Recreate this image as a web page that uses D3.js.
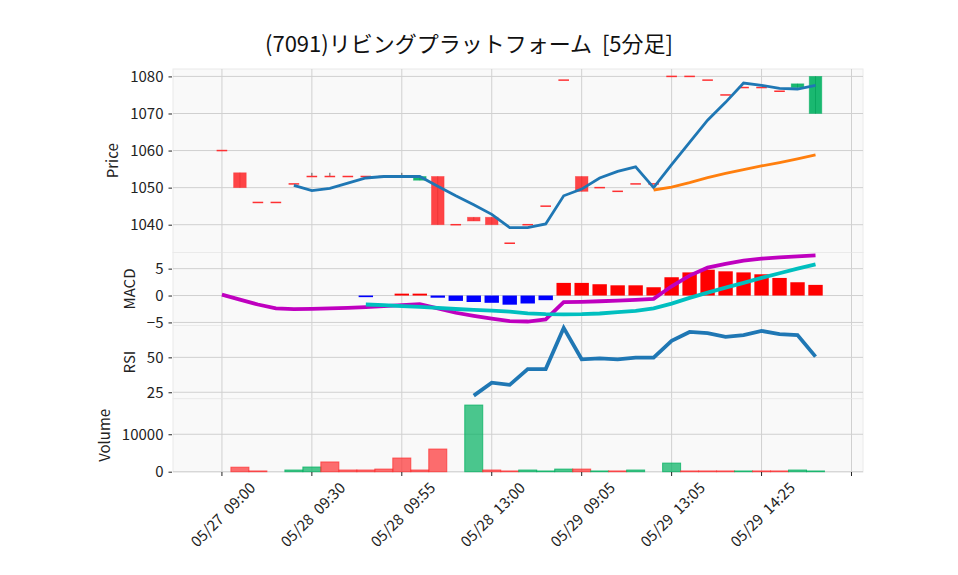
<!DOCTYPE html>
<html><head><meta charset="utf-8">
<script src="https://cdn.jsdelivr.net/npm/d3@7"></script>
<style>
html,body{margin:0;padding:0;background:#fff;}
svg text{font-family:"Noto Sans CJK JP","Noto Sans",sans-serif;}
</style></head>
<body><svg id="c" width="958" height="575"></svg>
<script>
// ---------------- data ----------------
const titleText = "(7091)リビングプラットフォーム  [5分足]";
const tickIdx = [0, 5, 10, 15, 20, 25, 30, 35];
const tickLabels = ["05/27  09:00", "05/28  09:30", "05/28  09:55", "05/28  13:00", "05/29  09:05", "05/29  13:05", "05/29  14:25", ""];
const opens  = [1060,1054,1046,1046,1051,1053,1053,1053,1053,1053,1053,1052,1053,1040,1042,1042,1035,1040,1045,1079,1053,1050,1049,1051,1051,1080,1080,1079,1075,1077,1077,1076,1077,1070];
const closes = [1060,1050,1046,1046,1051,1053,1053,1053,1053,1053,1053,1053,1040,1040,1041,1040,1035,1040,1045,1079,1049,1050,1049,1051,1051,1080,1080,1079,1075,1077,1077,1076,1078,1080];
const highs  = [1060,1054,1046,1046,1051,1054,1054,1053,1053,1053,1054,1053,1053,1040,1042,1042,1035,1040,1045,1079,1053,1050,1049,1051,1051,1080,1080,1079,1075,1077,1077,1076,1078,1080];
const lows   = [1060,1050,1046,1046,1051,1053,1053,1053,1053,1053,1053,1052,1040,1040,1041,1040,1035,1040,1045,1079,1049,1050,1049,1051,1051,1080,1080,1079,1075,1077,1077,1076,1077,1070];
const ma5  = [null,null,null,null,1050.6,1049.2,1049.8,1051.2,1052.6,1053,1053,1053,1050.4,1047.8,1045.4,1042.8,1039.2,1039.2,1040.2,1047.8,1049.6,1052.6,1054.4,1055.6,1050,1056.2,1062.2,1068.2,1073,1078.2,1077.6,1076.8,1076.6,1077.6];
const ma25 = [null,null,null,null,null,null,null,null,null,null,null,null,null,null,null,null,null,null,null,null,null,null,null,null,1049.36,1050.16,1051.36,1052.68,1053.84,1054.88,1055.84,1056.76,1057.76,1058.84];
const macd = [0.17,-0.75,-1.67,-2.4,-2.54,-2.47,-2.4,-2.3,-2.17,-1.98,-1.8,-1.6,-2.4,-3.2,-3.77,-4.27,-4.77,-4.83,-4.45,-1.24,-1.18,-1.06,-0.93,-0.8,-0.62,1.72,3.7,5.18,5.9,6.48,6.85,7.1,7.28,7.47];
const signal = [null,null,null,null,null,null,null,null,-1.67,-1.8,-1.95,-2.1,-2.3,-2.5,-2.65,-2.8,-3.0,-3.3,-3.46,-3.5,-3.46,-3.34,-3.1,-2.85,-2.4,-1.5,-0.44,0.55,1.48,2.35,3.27,4.14,5.0,5.8];
const hist = [null,null,null,null,null,null,null,null,-0.3,0,0.35,0.35,-0.4,-1.0,-1.2,-1.35,-1.7,-1.48,-0.86,2.35,2.35,2.1,1.9,1.9,1.54,3.4,4.3,4.8,4.5,4.3,3.95,3.27,2.47,1.98];
const rsi = [null,null,null,null,null,null,null,null,null,null,null,null,null,null,22.6,31.9,30.3,41.6,41.6,71.1,48.6,49.3,48.6,49.8,49.8,61.8,68.2,67.3,64.7,65.9,68.9,66.6,65.9,50.5];
const volume = [0,1200,200,0,450,1250,2600,450,450,700,3650,450,6050,0,17800,450,200,450,200,700,700,200,200,450,0,2300,200,200,200,200,200,200,450,200];
const priceTicks = [1040,1050,1060,1070,1080];
const macdTicks = [-5,0,5];
const rsiTicks = [25,50];
const volTicks = [0,10000];

// ---------------- layout ----------------
const svg = d3.select("#c");
const L = 173, R = 863;
const FS = 15;
const panels = {
  price: {top: 69, bottom: 252.5, domain: [1032.5, 1082], ticks: priceTicks, label: "Price"},
  macd:  {top: 252.5, bottom: 325.5, domain: [-5.57, 8.0], ticks: macdTicks, label: "MACD"},
  rsi:   {top: 325.5, bottom: 398.7, domain: [20.4, 72.8], ticks: rsiTicks, label: "RSI"},
  vol:   {top: 398.7, bottom: 472, domain: [-80, 19500], ticks: volTicks, label: "Volume"}
};
const idx = d3.range(closes.length);
const x = d3.scaleLinear().domain([-2.72, 35.64]).range([L, R]);
const step = x(1) - x(0);
const UP = "#00b060", DOWN = "#fe3032";
const fmt = d => (d < 0 ? "\u2212" + Math.abs(d) : String(d));

Object.values(panels).forEach(p => {
  p.y = d3.scaleLinear().domain(p.domain).range([p.bottom, p.top]);
  svg.append("rect").attr("x", L).attr("y", p.top).attr("width", R - L).attr("height", p.bottom - p.top)
    .attr("fill", "#f9f9f9").attr("stroke", "#eaeaea").attr("stroke-width", 1);
  const g = svg.append("g");
  g.selectAll("line.vg").data(tickIdx).join("line")
    .attr("x1", d => x(d)).attr("x2", d => x(d)).attr("y1", p.top).attr("y2", p.bottom)
    .attr("stroke", "#d0d0d0").attr("stroke-width", 1);
  g.selectAll("line.hg").data(p.ticks).join("line")
    .attr("x1", L).attr("x2", R).attr("y1", d => p.y(d)).attr("y2", d => p.y(d))
    .attr("stroke", "#d0d0d0").attr("stroke-width", 1);
  const ax = svg.append("g").attr("transform", `translate(${L - 1},0)`)
    .call(d3.axisLeft(p.y).tickValues(p.ticks).tickFormat(fmt).tickSize(3.5).tickPadding(5));
  ax.select(".domain").remove();
  ax.selectAll("line").attr("stroke", "#222");
  ax.selectAll("text").attr("font-size", FS).attr("fill", "#222")
    .style("font-family", '"Noto Sans CJK JP","Noto Sans",sans-serif');
  const bb = ax.node().getBBox();
  const lx = L - 1 + bb.x - 12;
  svg.append("text").text(p.label)
    .attr("transform", `translate(${lx},${(p.top + p.bottom) / 2}) rotate(-90)`)
    .attr("text-anchor", "middle").attr("font-size", FS).attr("fill", "#222");
});

// ---------------- price panel ----------------
const P = panels.price;
const cw = step * 0.7;
const pg = svg.append("g");
pg.selectAll("line.wick").data(idx).join("line")
  .attr("x1", i => x(i)).attr("x2", i => x(i))
  .attr("y1", i => P.y(highs[i])).attr("y2", i => P.y(lows[i]))
  .attr("stroke", "#606060").attr("stroke-width", 1);
pg.selectAll("rect.body").data(idx.filter(i => opens[i] !== closes[i])).join("rect")
  .attr("x", i => x(i) - cw / 2).attr("width", cw)
  .attr("y", i => P.y(Math.max(opens[i], closes[i])))
  .attr("height", i => Math.abs(P.y(opens[i]) - P.y(closes[i])))
  .attr("fill", i => closes[i] > opens[i] ? UP : DOWN).attr("fill-opacity", 0.9)
  .attr("stroke", i => closes[i] > opens[i] ? UP : DOWN).attr("stroke-opacity", 0.5).attr("stroke-width", 0.8);
pg.selectAll("line.doji").data(idx.filter(i => opens[i] === closes[i])).join("line")
  .attr("x1", i => x(i) - cw / 2 + 1).attr("x2", i => x(i) + cw / 2 - 1)
  .attr("y1", i => P.y(closes[i])).attr("y2", i => P.y(closes[i]))
  .attr("stroke", DOWN).attr("stroke-width", 1.5);
const priceLine = arr => d3.line().defined(i => arr[i] != null).x(i => x(i)).y(i => P.y(arr[i]));
pg.append("path").attr("d", priceLine(ma5)(idx)).attr("fill", "none").attr("stroke", "#1f77b4").attr("stroke-width", 2.8);
pg.append("path").attr("d", priceLine(ma25)(idx)).attr("fill", "none").attr("stroke", "#ff7f0e").attr("stroke-width", 2.8);

// ---------------- MACD panel ----------------
const M = panels.macd;
const hw = step * 0.8;
const mg = svg.append("g");
mg.selectAll("rect").data(idx.filter(i => hist[i] != null && hist[i] !== 0)).join("rect")
  .attr("x", i => x(i) - hw / 2).attr("width", hw)
  .attr("y", i => M.y(Math.max(0, hist[i])))
  .attr("height", i => Math.abs(M.y(hist[i]) - M.y(0)))
  .attr("fill", i => hist[i] > 0 ? "#ff0000" : "#0000ff");
const macdLine = arr => d3.line().defined(i => arr[i] != null).x(i => x(i)).y(i => M.y(arr[i]));
mg.append("path").attr("d", macdLine(macd)(idx)).attr("fill", "none").attr("stroke", "#bf00bf").attr("stroke-width", 3.8);
mg.append("path").attr("d", macdLine(signal)(idx)).attr("fill", "none").attr("stroke", "#00bfbf").attr("stroke-width", 3.8);

// ---------------- RSI panel ----------------
const Rp = panels.rsi;
svg.append("path")
  .attr("d", d3.line().defined(i => rsi[i] != null).x(i => x(i)).y(i => Rp.y(rsi[i]))(idx))
  .attr("fill", "none").attr("stroke", "#1f77b4").attr("stroke-width", 3.8);

// ---------------- Volume panel ----------------
const V = panels.vol;
svg.append("g").selectAll("rect").data(idx.filter(i => volume[i] > 0)).join("rect")
  .attr("x", i => x(i) - step / 2).attr("width", step)
  .attr("y", i => V.y(volume[i])).attr("height", i => V.y(0) - V.y(volume[i]))
  .attr("fill", i => (i > 0 && closes[i] > closes[i - 1]) ? UP : DOWN).attr("fill-opacity", 0.7)
  .attr("stroke", i => (i > 0 && closes[i] > closes[i - 1]) ? UP : DOWN).attr("stroke-opacity", 0.75).attr("stroke-width", 1);

// ---------------- x axis ----------------
const xa = svg.append("g");
xa.selectAll("line").data(tickIdx).join("line")
  .attr("x1", d => x(d)).attr("x2", d => x(d)).attr("y1", 472).attr("y2", 476)
  .attr("stroke", "#222").attr("stroke-width", 1);
tickIdx.forEach((d, k) => {
  if (!tickLabels[k]) return;
  const parts = tickLabels[k].split(/\s+/);
  const t = xa.append("text").attr("font-size", FS).attr("fill", "#222")
    .attr("text-anchor", "middle").attr("dominant-baseline", "central");
  t.append("tspan").text(parts[0]);
  t.append("tspan").attr("dx", 7).text(parts[1]);
  const b = t.node().getBBox();
  const half = (b.width + b.height * 0.8) * Math.SQRT1_2 / 2;
  t.attr("transform", `translate(${x(d)},${478 + half}) rotate(-45)`);
});

// ---------------- title ----------------
svg.append("text").text(titleText).attr("x", 469).attr("y", 52).style("white-space", "pre")
  .attr("text-anchor", "middle").attr("font-size", 22).attr("fill", "#111");
</script></body></html>
